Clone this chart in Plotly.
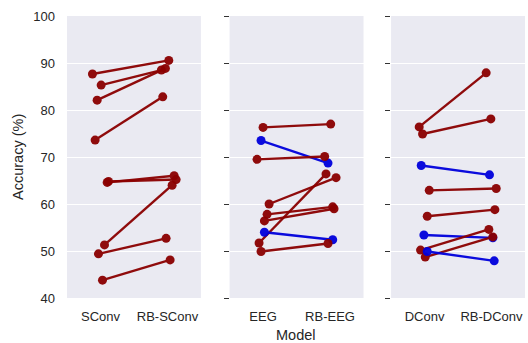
import plotly.graph_objects as go

# ---- data ----
panel_labels = [["SConv", "RB-SConv"], ["EEG", "RB-EEG"], ["DConv", "RB-DConv"]]

sconv = [87.65, 85.3, 82.1, 73.6, 64.6, 64.8, 51.3, 49.4, 43.8]
rb_sconv = [90.55, 88.5, 88.85, 82.8, 66.0, 65.2, 64.0, 52.7, 48.1]
sconv_jit = [-0.12, 0.01, -0.05, -0.08, 0.10, 0.12, 0.06, -0.03, 0.03]
rb_sconv_jit = [0.02, -0.09, -0.03, -0.07, 0.10, 0.13, 0.07, -0.02, 0.04]

eeg = [76.3, 73.5, 69.5, 60.0, 51.7, 57.8, 56.4, 54.0, 49.9]
rb_eeg = [77.0, 68.7, 70.1, 65.6, 66.4, 59.4, 59.0, 52.4, 51.6]
eeg_jit = [0.0, -0.03, -0.09, 0.09, -0.06, 0.06, 0.02, 0.02, -0.03]
rb_eeg_jit = [0.01, -0.03, -0.08, 0.09, -0.06, 0.04, 0.06, 0.04, -0.03]

dconv = [76.4, 74.9, 68.2, 62.9, 57.4, 53.4, 50.2, 48.7, 49.9]
rb_dconv = [87.9, 78.1, 66.2, 63.3, 58.8, 52.8, 54.6, 53.0, 47.9]
dconv_jit = [-0.08, -0.03, -0.05, 0.07, 0.04, -0.01, -0.06, 0.01, 0.04]
rb_dconv_jit = [-0.08, -0.01, -0.03, 0.07, 0.05, 0.02, -0.04, 0.02, 0.04]

y_ticks = [40, 50, 60, 70, 80, 90, 100]

panels = [
    (sconv, rb_sconv, sconv_jit, rb_sconv_jit),
    (eeg, rb_eeg, eeg_jit, rb_eeg_jit),
    (dconv, rb_dconv, dconv_jit, rb_dconv_jit),
]

RED = "#8b0000"
BLUE = "#0000dc"
FONT = "Liberation Sans, Arial, sans-serif"
TXT = "#262626"
TICK_SIZE = 13
TITLE_SIZE = 14.5

fig = go.Figure()
for p, (base, rb, jb, jr) in enumerate(panels):
    xa = "x" if p == 0 else f"x{p+1}"
    ya = "y" if p == 0 else f"y{p+1}"
    for i in range(len(base)):
        col = BLUE if rb[i] < base[i] else RED
        fig.add_trace(go.Scatter(
            x=[0 + jb[i], 1 + jr[i]], y=[base[i], rb[i]],
            mode="lines+markers", xaxis=xa, yaxis=ya,
            line=dict(color=col, width=2.4),
            marker=dict(color=col, size=9),
            opacity=0.95, showlegend=False, hoverinfo="skip"))

domains = [[0, 0.2924], [0.3550, 0.6474], [0.7076, 1.0]]
layout = dict(
    width=528, height=343,
    margin=dict(l=67, r=3, t=16, b=45),
    paper_bgcolor="white", plot_bgcolor="#eaeaf2",
    font=dict(family=FONT, size=TICK_SIZE, color=TXT),
    showlegend=False,
)
for p in range(3):
    xk = "xaxis" if p == 0 else f"xaxis{p+1}"
    yk = "yaxis" if p == 0 else f"yaxis{p+1}"
    xa = "x" if p == 0 else f"x{p+1}"
    layout[xk] = dict(
        domain=domains[p], range=[-0.5, 1.5], anchor=("y" if p == 0 else f"y{p+1}"),
        tickvals=[0, 1], ticktext=panel_labels[p], showgrid=False, zeroline=False,
        showline=False, ticks="", ticklabelstandoff=9,
        tickfont=dict(family=FONT, size=TICK_SIZE, color=TXT))
    ydict = dict(
        range=[40, 100], anchor=xa, tickvals=y_ticks, showgrid=True,
        gridcolor="white", gridwidth=1.3, zeroline=False, showline=False,
        tickfont=dict(family=FONT, size=TICK_SIZE, color=TXT))
    if p == 0:
        ydict.update(ticks="", ticklabelstandoff=11)
    else:
        ydict.update(showticklabels=False, ticks="outside", ticklen=5,
                     tickwidth=1.2, tickcolor="#333333", matches="y")
    layout[yk] = ydict

fig.update_layout(**layout)
fig.add_annotation(text="Accuracy (%)", xref="paper", yref="paper",
                   x=-0.107, y=0.5, textangle=-90, showarrow=False,
                   xanchor="center", yanchor="middle",
                   font=dict(family=FONT, size=TITLE_SIZE, color=TXT))
fig.add_annotation(text="Model", xref="paper", yref="paper",
                   x=0.5, y=-0.13, showarrow=False,
                   xanchor="center", yanchor="middle",
                   font=dict(family=FONT, size=TITLE_SIZE, color=TXT))

fig.write_html("out.html", config={"displayModeBar": False},
               post_script="document.body.style.margin='0';document.body.style.padding='0';")
